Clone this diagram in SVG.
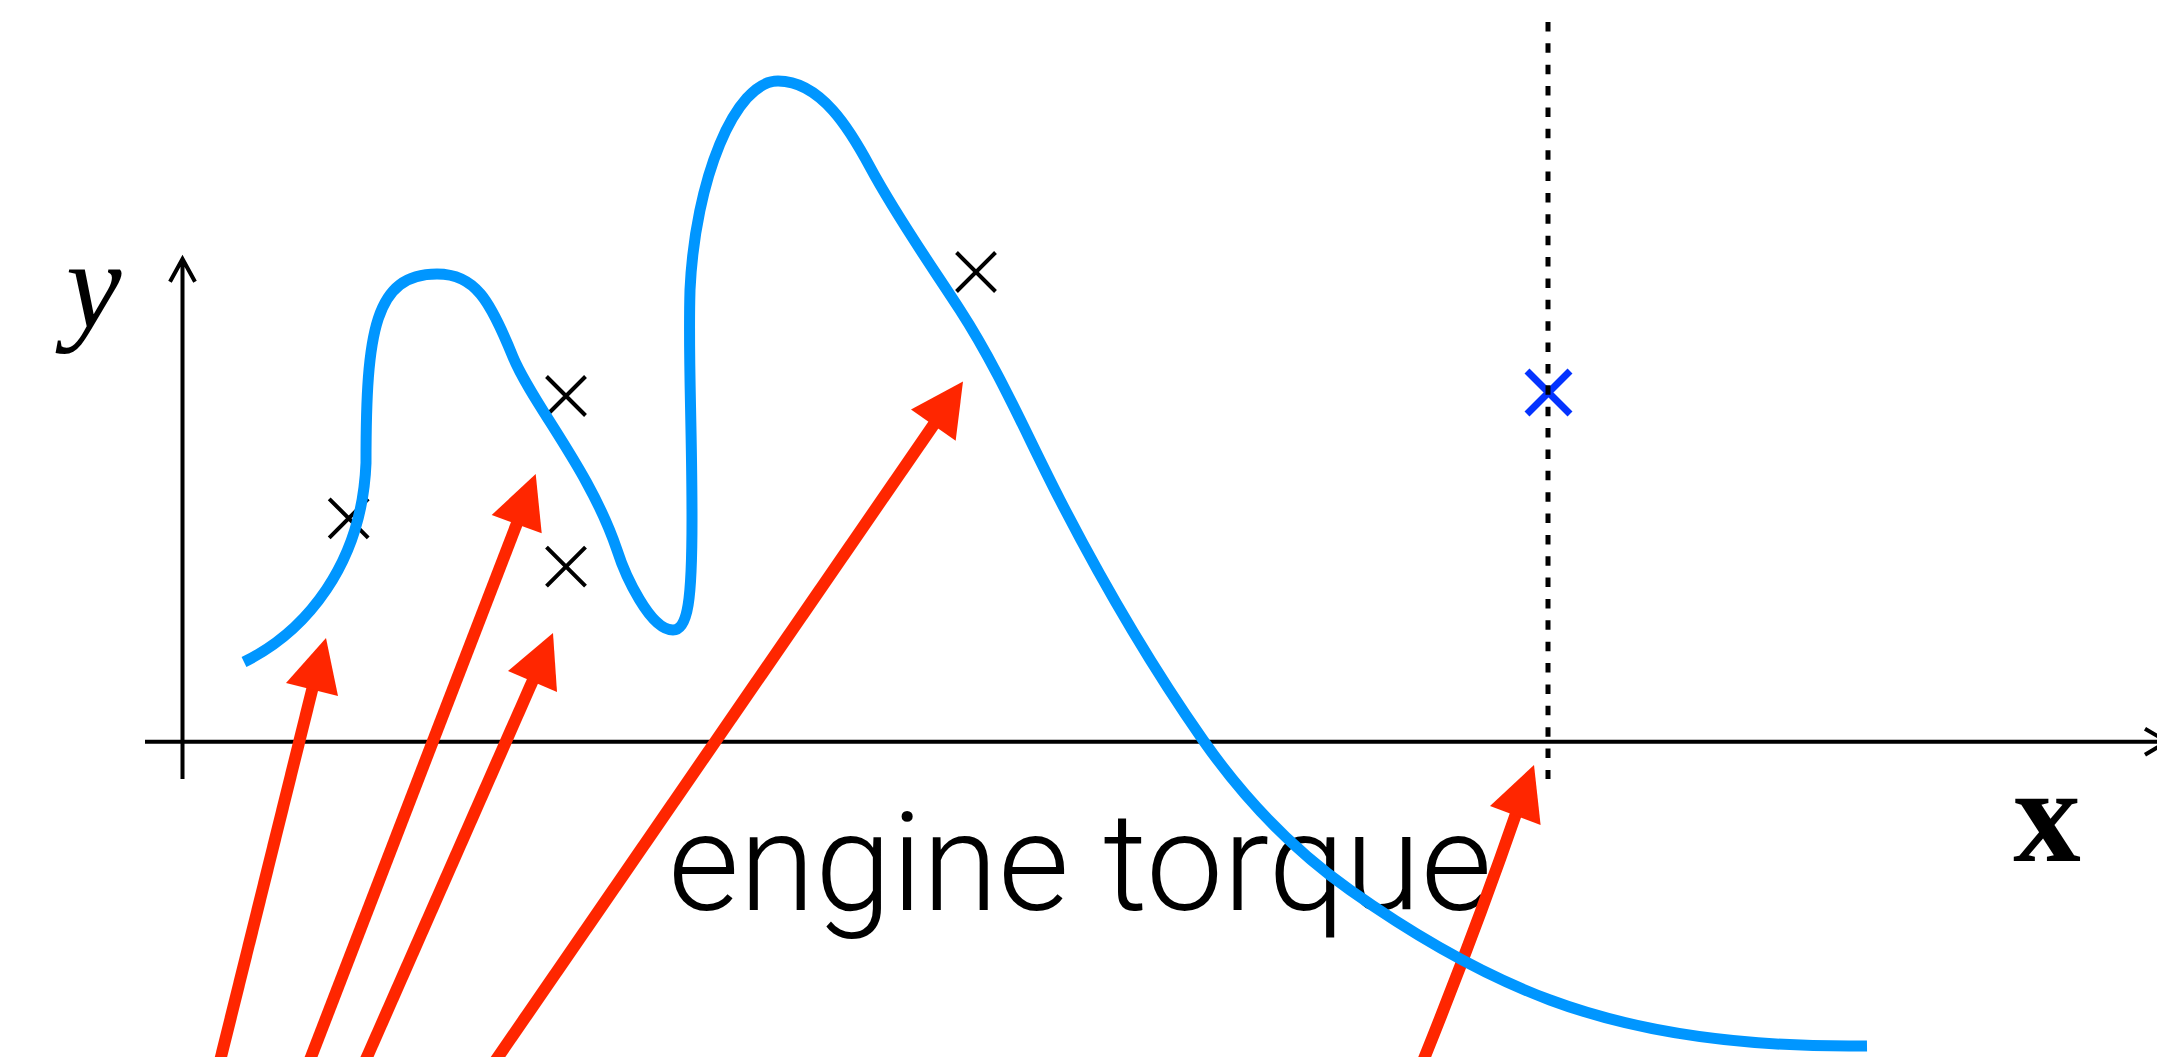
<svg xmlns="http://www.w3.org/2000/svg" width="2157" height="1057" viewBox="0 0 2157 1057">
<style>
.axis{fill:none;stroke:#000;stroke-width:4;stroke-linejoin:miter}
.mark{fill:none;stroke:#000;stroke-width:4}
.shaft{fill:none;stroke:#FF2600;stroke-width:12}
.head{fill:#FF2600;stroke:none}
.curve{fill:none;stroke:#0096FF;stroke-width:11}
.lbl{font-family:Roboto,"Liberation Sans",sans-serif;font-weight:300;font-size:137px;fill:#000}
</style>
<rect width="2157" height="1057" fill="#fff"/>
<g id="axes">
<path class="axis" d="M182.5,779 V259 M170,281.7 L182.5,259 L195,281.7"/>
<path class="axis" d="M145,741.7 H2166 M2145,728.7 L2167,741.7 L2145,754.7"/>
</g>
<g id="label-y"><text x="66" y="327" font-family="'Liberation Serif',serif" font-style="italic" font-size="125">y</text></g>
<g id="label-x"><text x="2047" y="861" text-anchor="middle" font-family="'Liberation Serif',serif" font-weight="bold" font-size="135">x</text></g>
<g id="label-torque"><text class="lbl" x="668" y="910" textLength="824" lengthAdjust="spacingAndGlyphs">engine torque</text></g>
<g id="samples">
<path class="mark" d="M329.2,498.8 l39,39 M368.2,498.8 l-39,39"/>
<path class="mark" d="M546.5,376.5 l39,39 M585.5,376.5 l-39,39"/>
<path class="mark" d="M546.5,547.2 l39,39 M585.5,547.2 l-39,39"/>
<path class="mark" d="M956.5,252.5 l39,39 M995.5,252.5 l-39,39"/>
</g>
<g id="connectors">
<path class="shaft" d="M219,1065 L314.1,681.8"/>
<polygon class="head" points="326,638 286,683 338,696"/>
<path class="shaft" d="M308,1065 L519.5,516.7"/>
<polygon class="head" points="535.7,474 491.7,515 541.7,533.3"/>
<path class="shaft" d="M363.5,1065 L535.6,674.1"/>
<polygon class="head" points="553,633 508,671 557,692"/>
<path class="shaft" d="M492.5,1065 L937.9,418.5"/>
<polygon class="head" points="963,381.5 911,409.4 955.7,440.8"/>
<path class="shaft" d="M1421.5,1065 Q1474,935 1518,808"/>
<polygon class="head" points="1534,765 1490,806 1540.6,825"/>
</g>
<g id="function-curve">
<path class="curve" d="M244,662 C305,632 362,565 366,463 C366,330 375,274 437,274 C475,274 490,300 513,357 C533,405 590,470 617,550 C625,575 650,630 673,630 C688,630 692,600 692,519 C692,420 688,360 690,290 C695,180 735,81 778,81 C821,81 850.5,130.6 870,167 C896.6,216.6 929.3,262.8 960,310 C999,370.1 1027.1,436.3 1060,500 C1102.7,582.8 1149.7,663.8 1203,740 C1243.1,797.3 1292.9,849.5 1350,890 C1412,933.9 1478.8,973.4 1550,1000 C1650.1,1037.4 1760.2,1047.4 1867,1046"/>
</g>
<g id="query-point">
<path d="M1527,371 l43,43 M1570,371 l-43,43" fill="none" stroke="#0433FF" stroke-width="7"/>
</g>
<g id="query-line">
<path d="M1548,22 V779" fill="none" stroke="#000" stroke-width="5" stroke-dasharray="9.5 11.87"/>
</g>
</svg>
